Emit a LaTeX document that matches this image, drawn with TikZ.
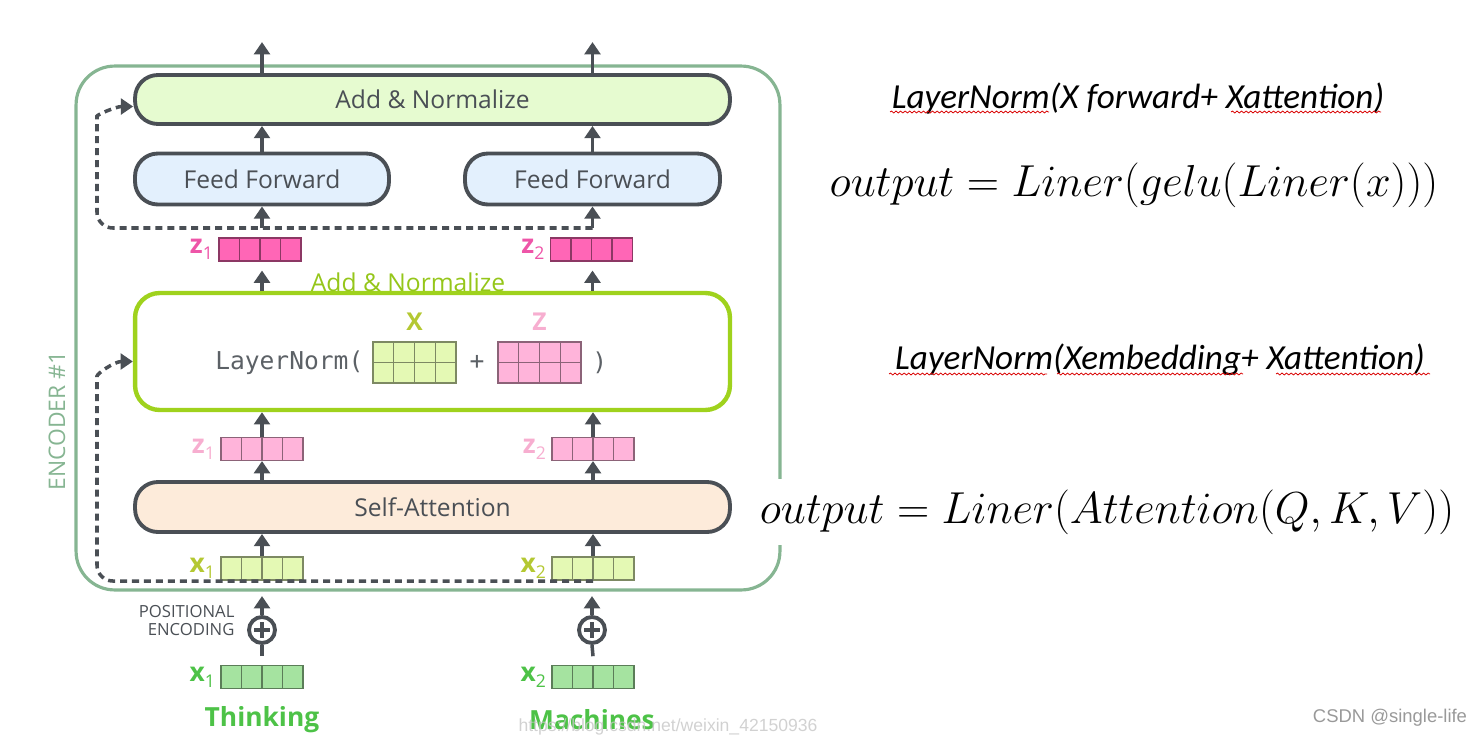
\documentclass[tikz,border=0pt]{standalone}
\usepackage{fix-cm}
\usepackage{fontspec}
\setmainfont{Open Sans}
\newfontfamily\codefont{DejaVu Sans Mono}
\newfontfamily\notefont{Carlito}
\newfontfamily\markfont{Liberation Sans}
\usepackage{tikz}
\usetikzlibrary{arrows.meta,calc,positioning,decorations.pathmorphing}

\definecolor{encgreen}{HTML}{86B592}
\definecolor{darkline}{HTML}{4A4F55}
\definecolor{anfill}{HTML}{E6FBD0}
\definecolor{ffblue}{HTML}{E3F0FD}
\definecolor{safill}{HTML}{FDEBDA}
\definecolor{lngreen}{HTML}{9FD21D}
\definecolor{lnlab}{HTML}{95C61A}
\definecolor{zdark}{HTML}{FF66B6}
\definecolor{zdarktxt}{HTML}{EE55A8}
\definecolor{zlight}{HTML}{FFB4DA}
\definecolor{zlighttxt}{HTML}{F7AED0}
\definecolor{xyel}{HTML}{E4F9B4}
\definecolor{xyeltxt}{HTML}{B4C832}
\definecolor{xgrn}{HTML}{A5E3A0}
\definecolor{xgrntxt}{HTML}{4DC247}

\newcommand{\veclab}[2]{{\bfseries #1}\raisebox{-0.45ex}{\fontsize{10}{10}\selectfont #2}}

\begin{document}
\begin{tikzpicture}[x=0.02cm, y=-0.02cm,
    arr/.style={-{Triangle[width=9pt,length=7pt]}, line width=2pt, draw=darkline},
    skip/.style={arr, dash pattern=on 4pt off 2.8pt, rounded corners=9pt},
    block/.style={draw=darkline, line width=2.2pt, rounded corners=13pt, minimum height=1cm,
      text=darkline, font=\fontsize{14}{16}\selectfont},
    vec/.style={draw=#1!55!black, fill=#1, line width=0.6pt, minimum width=1.64cm,
      minimum height=0.46cm, inner sep=0pt,
      path picture={\foreach \k in {1,2,3}
        \draw[#1!55!black, line width=0.6pt]
          ($(path picture bounding box.south west)!\k/4!(path picture bounding box.south east)$) --
          ($(path picture bounding box.north west)!\k/4!(path picture bounding box.north east)$);}},
    mat/.style={draw=#1!55!black, fill=#1, line width=0.6pt, minimum width=1.66cm,
      minimum height=0.82cm, inner sep=0pt,
      path picture={\foreach \k in {1,2,3}
        \draw[#1!55!black, line width=0.6pt]
          ($(path picture bounding box.south west)!\k/4!(path picture bounding box.south east)$) --
          ($(path picture bounding box.north west)!\k/4!(path picture bounding box.north east)$);
        \draw[#1!55!black, line width=0.6pt]
          (path picture bounding box.west) -- (path picture bounding box.east);}},
    squig/.style={draw=red!85!black, line width=0.45pt, decorate,
      decoration={snake, amplitude=0.55pt, segment length=2.6pt}}]
  \tikzstyle{lab} = [inner sep=0pt, font=\fontsize{15}{15}\selectfont]
  \tikzstyle{plus} = [circle, draw=darkline, line width=2.2pt, minimum size=0.52cm, inner sep=0pt,
      path picture={\draw[darkline, line width=2.4pt]
        ([xshift=-4.3pt]path picture bounding box.center) -- ([xshift=4.3pt]path picture bounding box.center)
        ([yshift=-4.3pt]path picture bounding box.center) -- ([yshift=4.3pt]path picture bounding box.center);}]
  \tikzstyle{note} = [inner sep=0pt, font=\notefont\itshape\fontsize{20}{22}\selectfont]
  \tikzstyle{formula} = [inner sep=2pt, font=\fontsize{25.5}{28}\selectfont]
  \useasboundingbox (0,0) rectangle (1484,737);

  % encoder frame
  \node (enc) [draw=encgreen, line width=1.8pt, rounded corners=22pt,
    minimum width=14.08cm, minimum height=10.48cm] at (428,328) {};
  \node [rotate=90, text=encgreen, inner sep=0pt, font=\fontsize{13}{15}\selectfont] at (57,421) {ENCODER \#1};

  % blocks
  \node (an) [block, fill=anfill, minimum width=11.9cm, minimum height=0.98cm] at (432.5,99.5) {Add \& Normalize};
  \node (ff1) [block, fill=ffblue, minimum width=5.08cm, minimum height=1.02cm] at (262,179) {Feed Forward};
  \node (ff2) [block, fill=ffblue, minimum width=5.1cm, minimum height=1.02cm] at (592.5,179) {Feed Forward};
  \node (ln) [draw=lngreen, line width=2.5pt, rounded corners=14pt,
    minimum width=11.9cm, minimum height=2.34cm] at (432.5,351.5) {};
  \node (sa) [block, fill=safill, minimum width=11.9cm] at (432.5,507) {Self-Attention};
  \node [text=lnlab, inner sep=0pt, font=\fontsize{14}{16}\selectfont] at (408,282) {Add \& Normalize};

  % vectors
  \node (zt1) [vec=zdark] at (260,249.5) {};
  \node (zt2) [vec=zdark] at (591.5,249.5) {};
  \node (zp1) [vec=zlight] at (262,449) {};
  \node (zp2) [vec=zlight] at (593,449) {};
  \node (xy1) [vec=xyel] at (262,568.5) {};
  \node (xy2) [vec=xyel] at (593,568.5) {};
  \node (xg1) [vec=xgrn] at (262,677) {};
  \node (xg2) [vec=xgrn] at (593,677) {};
  \node [lab, text=zdarktxt, left=3pt of zt1] {\veclab{z}{1}};
  \node [lab, text=zdarktxt, left=3pt of zt2] {\veclab{z}{2}};
  \node [lab, text=zlighttxt, left=3pt of zp1] {\veclab{z}{1}};
  \node [lab, text=zlighttxt, left=3pt of zp2] {\veclab{z}{2}};
  \node [lab, text=xyeltxt, left=3pt of xy1] {\veclab{x}{1}};
  \node [lab, text=xyeltxt, left=3pt of xy2] {\veclab{x}{2}};
  \node [lab, text=xgrntxt, left=3pt of xg1] {\veclab{x}{1}};
  \node [lab, text=xgrntxt, left=3pt of xg2] {\veclab{x}{2}};

  % layer norm of X + Z
  \node (mx) [mat=xyel] at (414.5,362.5) {};
  \node (mz) [mat=zlight] at (539.5,362.5) {};
  \node [inner sep=0pt, text=xyeltxt, font=\bfseries\fontsize{14}{16}\selectfont, above=6pt of mx] {X};
  \node [inner sep=0pt, text=zlighttxt, font=\bfseries\fontsize{14}{16}\selectfont, above=6pt of mz] {Z};
  \node (lnt) [inner sep=0pt, text=darkline!90, font=\codefont\fontsize{14}{16}\selectfont, left=5pt of mx] {LayerNorm(};
  \node [inner sep=0pt, text=darkline!90, font=\codefont\fontsize{14}{16}\selectfont] at ($(mx.east)!0.5!(mz.west)$) {+};
  \node [inner sep=0pt, text=darkline!90, font=\codefont\fontsize{14}{16}\selectfont, right=6pt of mz] {)};

  % positional encoding and input words
  \node (pe1) [plus] at (262,630) {};
  \node (pe2) [plus] at (592,630) {};
  \node [inner sep=0pt, align=right, text=darkline, font=\fontsize{9.5}{10.3}\selectfont,
    left=7pt of pe1, yshift=5.5pt] {POSITIONAL\\ENCODING};
  \node (w1) [inner sep=0pt, text=xgrntxt, font=\bfseries\fontsize{15}{17}\selectfont] at (262,720) {Thinking};
  \node (w2) [inner sep=0pt, text=xgrntxt, font=\bfseries\fontsize{15}{17}\selectfont] at (592,720) {Machines};

  % connections
  \draw[arr] (an.north -| ff1) -- ++(0,-31);
  \draw[arr] (an.north -| ff2) -- ++(0,-31);
  \draw[arr] (ff1.north) -- (ff1.north |- an.south);
  \draw[arr] (ff2.north) -- (ff2.north |- an.south);
  \coordinate (dtop) at (592.5,228);
  \draw[arr] (ff1 |- dtop) -- (ff1.south);
  \draw[arr] (dtop) -- (ff2.south);
  \draw[skip] (dtop) -| (97,132) to[out=90,in=180] ([yshift=-4pt]an.west);
  \draw[arr] (ln.north -| ff1) -- ($(zt1.south -| ff1)+(0,9)$);
  \draw[arr] (ln.north -| ff2) -- ($(zt2.south -| ff2)+(0,9)$);
  \draw[arr] (zp1.north) -- (zp1.north |- ln.south);
  \draw[arr] (zp2.north) -- (zp2.north |- ln.south);
  \draw[arr] (sa.north -| zp1) -- (zp1.south);
  \draw[arr] (sa.north -| zp2) -- (zp2.south);
  \draw[arr] (xy1.north) -- (xy1.north |- sa.south);
  \draw[arr] (xy2.north) -- (xy2.north |- sa.south);
  \coordinate (dbot) at (593,581);
  \draw[skip] (dbot) -| (97,392) to[out=90,in=180] ([yshift=-5.7pt]ln.west);
  \draw[arr] (pe1.north) -- ++(0,-19);
  \draw[arr] (pe2.north) -- ++(0,-19);
  \draw[darkline, line width=2pt] ([yshift=5pt]xg1.north) -- (pe1.south);
  \draw[darkline, line width=2pt] ([yshift=5pt]xg2.north) -- (pe2.south);

  % notes on the right
  \node (n1) [note] at (1138,98) {LayerNorm(X forward+ Xattention)};
  \node (f1) [formula] at (1134,185) {$output = Liner(gelu\big(Liner(x)\big))$};
  \node (n2) [note] at (1160,360) {LayerNorm(Xembedding+ Xattention)};
  \node (f2) [formula, fill=white, inner ysep=6pt] at (1107,512) {$output = Liner(Attention(Q,K,V))$};
  \draw[squig] (890,112) -- (1049,112);
  \draw[squig] (1231,112) -- (1381,112);
  \draw[squig] (889,374) -- (1047,374);
  \draw[squig] (1057,374) -- (1243,374);
  \draw[squig] (1276,374) -- (1430,374);

  % watermarks
  \node [inner sep=0pt, text=gray!80, font=\markfont\fontsize{10.5}{12}\selectfont] at (1390,718) {CSDN @single-life};
  \node [inner sep=0pt, text=gray!45, opacity=0.8, font=\markfont\fontsize{10}{11}\selectfont] at (668,727) {https://blog.csdn.net/weixin\_42150936};
\end{tikzpicture}
\end{document}
